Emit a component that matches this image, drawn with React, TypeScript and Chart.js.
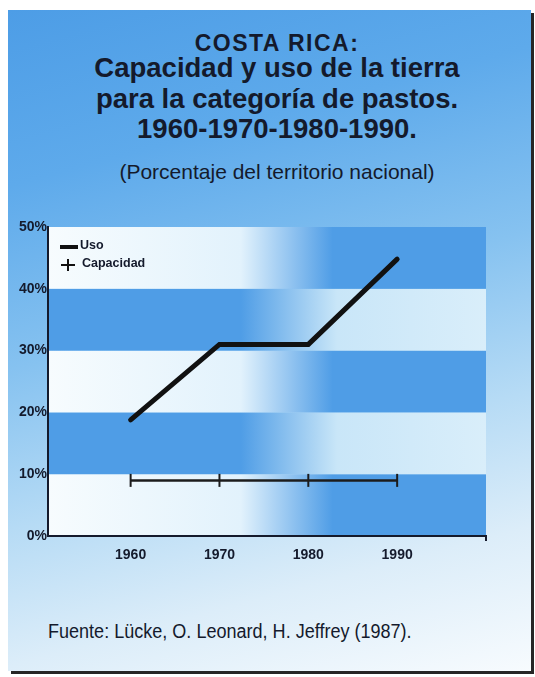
import React, { useEffect, useRef } from "react";
import { Chart, registerables } from "chart.js";

Chart.register(...registerables);

const YEARS = [1960, 1970, 1980, 1990];
const USO = [18.8, 31, 31, 44.8];
const CAPACIDAD = [9, 9, 9, 9];
const Y_TICKS = [0, 10, 20, 30, 40, 50];
const SERIES_LABELS = ["Uso", "Capacidad"];
const TITLE_TOP = "COSTA RICA:";
const TITLE_LINES = [
  "Capacidad y uso de la tierra",
  "para la categoría de pastos.",
  "1960-1970-1980-1990.",
];
const SUBTITLE = "(Porcentaje del territorio nacional)";
const SOURCE = "Fuente: Lücke, O. Leonard, H. Jeffrey (1987).";

const FONT = "'Liberation Sans', Arial, sans-serif";
const INK = "#141a2c";
const BLUE = "#4f9de6";

const bandsPlugin = {
  id: "bands",
  beforeDraw(chart: any) {
    const { ctx, chartArea: a, scales } = chart;
    const y = scales.y;
    ctx.save();
    for (let i = 0; i < Y_TICKS.length - 1; i++) {
      const top = y.getPixelForValue(Y_TICKS[i + 1]);
      const bot = y.getPixelForValue(Y_TICKS[i]);
      const g = ctx.createLinearGradient(a.left, 0, a.right, 0);
      if (i % 2 === 0) {
        g.addColorStop(0, "#f7fcfe");
        g.addColorStop(0.44, "#e2f2fc");
        g.addColorStop(0.65, BLUE);
        g.addColorStop(1, BLUE);
      } else {
        g.addColorStop(0, BLUE);
        g.addColorStop(0.44, BLUE);
        g.addColorStop(0.66, "#c9e6f8");
        g.addColorStop(1, "#d9eefa");
      }
      ctx.fillStyle = g;
      ctx.fillRect(a.left, top, a.right - a.left, bot - top);
    }
    ctx.restore();
  },
  afterDraw(chart: any) {
    const { ctx, chartArea: a } = chart;
    ctx.save();
    ctx.strokeStyle = INK;
    ctx.lineWidth = 2;
    ctx.beginPath();
    ctx.moveTo(a.right, a.bottom);
    ctx.lineTo(a.right, a.bottom + 5);
    ctx.stroke();
    ctx.restore();
  },
};

const legendPlugin = {
  id: "customLegend",
  afterDatasetsDraw(chart: any) {
    const { ctx, chartArea: a } = chart;
    const ds = chart.data.datasets;
    ctx.save();
    ctx.font = `bold 12.5px ${FONT}`;
    ctx.fillStyle = INK;
    ctx.textBaseline = "middle";
    ctx.strokeStyle = "#111";
    // Uso
    ctx.lineWidth = 4;
    ctx.beginPath();
    ctx.moveTo(a.left + 12, a.top + 20);
    ctx.lineTo(a.left + 30, a.top + 20);
    ctx.stroke();
    ctx.fillText(ds[0].label, a.left + 32, a.top + 19);
    // Capacidad
    ctx.lineWidth = 2;
    ctx.beginPath();
    ctx.moveTo(a.left + 13, a.top + 38);
    ctx.lineTo(a.left + 27, a.top + 38);
    ctx.moveTo(a.left + 20, a.top + 32);
    ctx.lineTo(a.left + 20, a.top + 44);
    ctx.stroke();
    ctx.fillText(ds[1].label, a.left + 34, a.top + 37);
    ctx.restore();
  },
};

export default function App() {
  const ref = useRef<HTMLCanvasElement>(null);

  useEffect(() => {
    if (!ref.current) return;
    const chart = new Chart(ref.current, {
      type: "line",
      data: {
        datasets: [
          {
            label: SERIES_LABELS[0],
            data: YEARS.map((x, i) => ({ x, y: USO[i] })),
            borderColor: "#111111",
            borderWidth: 5,
            borderCapStyle: "round",
            borderJoinStyle: "miter",
            pointRadius: 0,
            tension: 0,
          },
          {
            label: SERIES_LABELS[1],
            data: YEARS.map((x, i) => ({ x, y: CAPACIDAD[i] })),
            borderColor: "#1c1c1c",
            borderWidth: 2.5,
            pointStyle: "line",
            rotation: 90,
            pointRadius: 6.5,
            pointBorderWidth: 2,
            pointBorderColor: "#1c1c1c",
            tension: 0,
          },
        ],
      },
      options: {
        animation: false,
        responsive: false,
        devicePixelRatio: 1,
        layout: { padding: { top: 27, right: 49, left: 0, bottom: 0 } },
        plugins: {
          legend: { display: false },
          tooltip: { enabled: false },
        },
        scales: {
          x: {
            type: "linear",
            min: 1950.7,
            max: 2000,
            afterBuildTicks: (s: any) => {
              s.ticks = YEARS.map((v) => ({ value: v }));
            },
            afterFit: (s: any) => {
              s.height = 44;
            },
            grid: { display: false, drawTicks: false },
            border: { display: true, color: INK, width: 2 },
            ticks: {
              padding: 11,
              color: INK,
              font: { family: FONT, size: 14, weight: "bold" },
              callback: (v: any) => String(v),
              maxRotation: 0,
            },
          },
          y: {
            min: 0,
            max: 50,
            afterBuildTicks: (s: any) => {
              s.ticks = Y_TICKS.map((v) => ({ value: v }));
            },
            afterFit: (s: any) => {
              s.width = 48;
            },
            grid: { display: false, drawTicks: false },
            border: { display: true, color: INK, width: 2 },
            ticks: {
              padding: 1,
              color: INK,
              font: { family: FONT, size: 14, weight: "bold" },
              callback: (v: any) => `${v}%`,
            },
          },
        },
      },
      plugins: [bandsPlugin, legendPlugin],
    } as any);
    return () => chart.destroy();
  }, []);

  const line = (top: number, h: number): React.CSSProperties => ({
    position: "absolute",
    left: 12,
    width: 530,
    top,
    height: h,
    lineHeight: `${h}px`,
    textAlign: "center",
    color: INK,
    fontFamily: FONT,
    whiteSpace: "nowrap",
  });

  return (
    <div>
      <div
        style={{
          position: "absolute",
          left: 8,
          top: 10,
          width: 523,
          height: 661,
          background:
            "linear-gradient(165deg, #4d9de6 0%, #5eaaeb 22%, #86c2f0 45%, #b6dbf5 65%, #dcedf9 82%, #f7fbfe 100%)",
          boxShadow: "3px 3px 0 #262626",
        }}
      />
      <div style={{ ...line(29, 28), fontSize: 23, fontWeight: 700, letterSpacing: 1.5 }}>
        {TITLE_TOP}
      </div>
      {TITLE_LINES.map((t, i) => (
        <div key={i} style={{ ...line(53 + i * 30.5, 30.5), fontSize: 27.5, fontWeight: 700 }}>
          {t}
        </div>
      ))}
      <div style={{ ...line(158, 28), fontSize: 21 }}>{SUBTITLE}</div>
      <canvas
        ref={ref}
        width={535}
        height={380}
        style={{ position: "absolute", left: 0, top: 200, width: 535, height: 380 }}
      />
      <div
        style={{
          ...line(617, 28),
          left: 48,
          width: 480,
          textAlign: "left",
          fontSize: 19.5,
          transform: "scaleX(0.925)",
          transformOrigin: "0 50%",
        }}
      >
        {SOURCE}
      </div>
    </div>
  );
}
